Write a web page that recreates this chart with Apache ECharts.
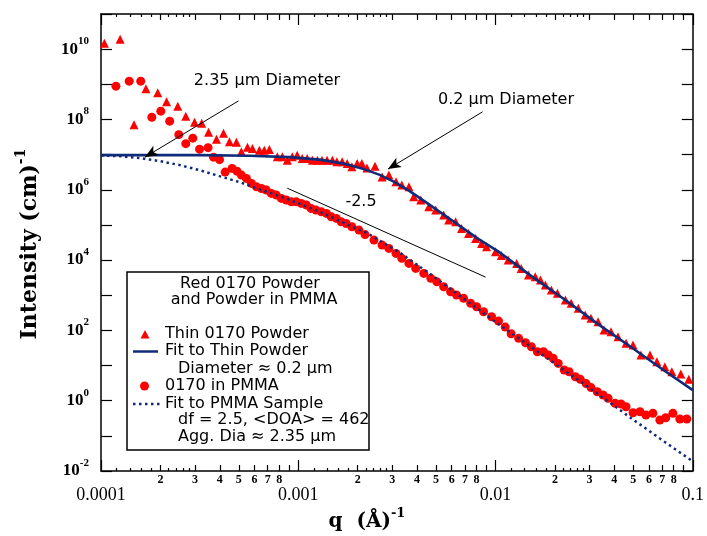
<!DOCTYPE html>
<html><head><meta charset="utf-8">
<script src="https://cdn.jsdelivr.net/npm/echarts@6/dist/echarts.min.js"></script>
<style>html,body{margin:0;padding:0;background:#fff}#c{width:707px;height:536px}</style>
</head><body><div id="c"></div>
<script>
// ---- data (q in 1/Å, intensity in 1/cm) ----
const thinQ = [1.04e-4,1.25e-4,1.47e-4,1.69e-4,1.94e-4,2.15e-4,2.45e-4,2.69e-4,2.98e-4,3.24e-4,3.51e-4,3.85e-4,4.18e-4,4.48e-4,4.86e-4,5.15e-4,5.53e-4,5.86e-4,6.35e-4,6.73e-4,7.14e-4,7.83e-4,8.30e-4,8.80e-4,9.33e-4,9.88e-4,1.048e-3,1.11e-3,1.18e-3,1.25e-3,1.32e-3,1.40e-3,1.49e-3,1.57e-3,1.67e-3,1.77e-3,1.87e-3,1.99e-3,2.10e-3,2.23e-3,2.45e-3,2.66e-3,2.88e-3,3.13e-3,3.35e-3,3.64e-3,3.85e-3,4.18e-3,4.59e-3,4.98e-3,5.46e-3,5.79e-3,6.28e-3,6.73e-3,7.30e-3,7.93e-3,8.50e-3,9.01e-3,1.00e-2,1.07e-2,1.16e-2,1.28e-2,1.35e-2,1.47e-2,1.59e-2,1.69e-2,1.79e-2,1.92e-2,2.06e-2,2.26e-2,2.42e-2,2.63e-2,2.85e-2,3.05e-2,3.31e-2,3.55e-2,3.85e-2,4.18e-2,4.59e-2,4.98e-2,5.46e-2,6.07e-2,6.58e-2,7.22e-2,7.83e-2,8.70e-2,9.55e-2];
const thinI = [1.48e10,1.92e10,7.12e7,7.52e8,5.79e8,3.21e8,2.39e8,1.24e8,8.38e7,7.86e7,4.36e7,2.75e7,4.08e7,2.31e7,2.26e7,1.20e7,1.63e7,1.50e7,1.34e7,1.34e7,1.40e7,8.65e6,8.65e6,6.97e6,8.65e6,9.66e6,7.79e6,7.79e6,6.97e6,6.97e6,6.97e6,6.97e6,6.97e6,6.23e6,6.23e6,5.61e6,4.49e6,5.61e6,5.61e6,4.13e6,4.70e6,2.29e6,2.61e6,1.68e6,1.36e6,1.21e6,6.30e5,5.08e5,3.27e5,2.64e5,1.90e5,1.37e5,1.23e5,7.96e4,5.74e4,4.14e4,2.98e4,2.39e4,1.72e4,1.34e4,9.99e3,8.05e3,5.80e3,3.74e3,3.35e3,2.70e3,1.95e3,1.40e3,1.13e3,729,587,423,273,220,176,102,91.4,65.9,42.8,38.3,19.9,19.9,12.8,9.25,6.66,5.73,4.05];

const pmmaQ = [1.19e-4,1.39e-4,1.59e-4,1.81e-4,2.01e-4,2.23e-4,2.48e-4,2.69e-4,2.92e-4,3.16e-4,3.49e-4,3.72e-4,3.99e-4,4.26e-4,4.62e-4,4.89e-4,5.15e-4,5.46e-4,5.79e-4,6.14e-4,6.51e-4,6.89e-4,7.30e-4,7.74e-4,8.21e-4,8.70e-4,9.22e-4,9.77e-4,1.036e-3,1.10e-3,1.16e-3,1.23e-3,1.31e-3,1.39e-3,1.47e-3,1.56e-3,1.65e-3,1.75e-3,1.87e-3,2.03e-3,2.18e-3,2.42e-3,2.66e-3,2.88e-3,3.13e-3,3.35e-3,3.64e-3,3.94e-3,4.33e-3,4.70e-3,5.04e-3,5.46e-3,5.92e-3,6.35e-3,6.89e-3,7.48e-3,8.02e-3,8.70e-3,9.55e-3,1.036e-2,1.12e-2,1.20e-2,1.31e-2,1.42e-2,1.52e-2,1.63e-2,1.75e-2,1.85e-2,1.96e-2,2.08e-2,2.23e-2,2.36e-2,2.54e-2,2.69e-2,2.88e-2,3.05e-2,3.28e-2,3.51e-2,3.72e-2,4.04e-2,4.33e-2,4.59e-2,4.98e-2,5.40e-2,5.79e-2,6.28e-2,6.81e-2,7.30e-2,7.93e-2,8.60e-2,9.33e-2];
const pmmaI = [8.85e8,1.23e9,1.23e9,1.16e8,1.72e8,8.95e7,3.70e7,2.05e7,2.94e7,1.43e7,1.58e7,8.48e6,7.20e6,3.18e6,4.05e6,3.39e6,2.61e6,2.10e6,1.52e6,1.21e6,1.09e6,9.77e5,7.87e5,7.05e5,5.68e5,5.08e5,4.54e5,4.54e5,4.09e5,3.66e5,2.95e5,2.64e5,2.36e5,2.13e5,1.70e5,1.53e5,1.23e5,1.10e5,8.84e4,7.13e4,5.31e4,3.70e4,2.67e4,2.15e4,1.55e4,1.12e4,8.05e3,5.80e3,4.18e3,3.02e3,2.41e3,1.74e3,1.25e3,1.01e3,814,587,470,339,244,184,124,80.2,59.3,44.5,34.2,24.7,24.7,19.9,16.0,11.5,7.45,6.66,4.80,4.05,3.06,2.36,1.80,1.45,1.17,0.842,0.804,0.674,0.455,0.486,0.391,0.437,0.282,0.328,0.437,0.301,0.301];

const fitThinQ = [1e-4,1.77e-4,3.16e-4,5.66e-4,9.01e-4,1.28e-3,1.71e-3,2.15e-3,2.57e-3,3.05e-3,3.64e-3,4.43e-3,5.46e-3,6.50e-3,8.21e-3,1.036e-2,1.52e-2,2.26e-2,3.31e-2,4.86e-2,7.22e-2,0.1];
const fitThinI = [9.66e6,9.66e6,9.66e6,9.29e6,8.48e6,7.20e6,5.54e6,3.87e6,2.70e6,1.70e6,9.46e5,4.46e5,1.97e5,9.88e4,3.95e4,1.74e4,3.50e3,729,151,33.6,6.98,2.00];

const fitPmmaQ = [1e-4,1.25e-4,1.57e-4,1.99e-4,2.51e-4,3.16e-4,3.99e-4,5.04e-4,6.35e-4,8.70e-4,1.28e-3,1.87e-3,2.21e-3,3.24e-3,4.75e-3,7.05e-3,1.036e-2,1.52e-2,2.26e-2,3.31e-2,4.86e-2,7.22e-2,9.77e-2];
const fitPmmaI = [9.35e6,9.05e6,7.94e6,6.53e6,5.02e6,3.62e6,2.44e6,1.65e6,1.04e6,5.60e5,2.39e5,8.96e4,6.05e4,1.69e4,3.74e3,729,151,33.6,6.98,1.55,0.321,0.0668,0.0206];

// annotation lines: [q, I] endpoints
const arrowBig = [[4.98e-4, 3.38e8], [1.67e-4, 8.48e6]];
const arrowSmall = [[8.60e-3, 1.65e8], [2.85e-3, 3.87e6]];
const slopeLine = [[8.80e-4, 1.11e6], [8.90e-3, 3.28e3]];

// ticks and labels
const xMajorTicks = [1e-4, 1e-3, 1e-2, 1e-1];
const xMajorLabels = ['0.0001', '0.001', '0.01', '0.1'];
const xMinorLabelVals = [2e-4,3e-4,4e-4,5e-4,6e-4,7e-4,8e-4, 2e-3,3e-3,4e-3,5e-3,6e-3,7e-3,8e-3, 2e-2,3e-2,4e-2,5e-2,6e-2,7e-2,8e-2];
const xMidTicks = [2e-4,3e-4,4e-4,5e-4,6e-4,7e-4,8e-4,9e-4, 2e-3,3e-3,4e-3,5e-3,6e-3,7e-3,8e-3,9e-3, 2e-2,3e-2,4e-2,5e-2,6e-2,7e-2,8e-2,9e-2];
const xSmallTicks = [1.2e-4,1.4e-4,1.6e-4,1.8e-4,2.2e-4,2.4e-4,2.6e-4,2.8e-4, 1.2e-3,1.4e-3,1.6e-3,1.8e-3,2.2e-3,2.4e-3,2.6e-3,2.8e-3, 1.2e-2,1.4e-2,1.6e-2,1.8e-2,2.2e-2,2.4e-2,2.6e-2,2.8e-2];
const yTicks = [1e-2,1e-1,1e0,1e1,1e2,1e3,1e4,1e5,1e6,1e7,1e8,1e9,1e10,1e11];
const yLabelVals = [1e-2,1e0,1e2,1e4,1e6,1e8,1e10];
const yLabelExps = ['-2','0','2','4','6','8','10'];

const fitColor = '#0f2b7a';
const red = '#ff0000';
const serif = 'Liberation Serif';
const sans = 'DejaVu Sans';

function pair(a, b) { return a.map((v, i) => [v, b[i]]); }
function near(a, b) { return Math.abs(Math.log10(a) - Math.log10(b)) < 1e-6; }

function xAxisDef(pos, ticks, len, main) {
  const ax = {
    type: 'log', logBase: 10, min: 1e-4, max: 0.1, position: pos,
    axisLine: { show: main, onZero: false, lineStyle: { color: '#000', width: 1.5 } },
    axisTick: { show: true, inside: true, length: len, customValues: ticks, lineStyle: { color: '#000', width: 1.2 } },
    splitLine: { show: false }, minorTick: { show: false }, minorSplitLine: { show: false },
    axisLabel: { show: false }
  };
  if (main && pos === 'bottom') {
    ax.axisLabel = {
      show: true, margin: 3,
      customValues: xMajorTicks.concat(xMinorLabelVals),
      formatter: function (v) {
        for (let i = 0; i < xMajorTicks.length; i++) {
          if (near(v, xMajorTicks[i])) return '{maj|' + xMajorLabels[i] + '}';
        }
        const m = Math.round(v / Math.pow(10, Math.floor(Math.log10(v) + 1e-9)));
        return '{min|' + m + '}';
      },
      rich: {
        maj: { fontFamily: serif, fontSize: 18, color: '#000', padding: [12, 0, 0, 0] },
        min: { fontFamily: serif, fontSize: 12, fontWeight: 'bold', color: '#000' }
      }
    };
  }
  return ax;
}
function yAxisDef(pos, main) {
  const ax = {
    type: 'log', logBase: 10, min: 1e-2, max: 1e11, position: pos,
    axisLine: { show: true, onZero: false, lineStyle: { color: '#000', width: 1.5 } },
    axisTick: { show: true, inside: true, length: 11, customValues: yTicks, lineStyle: { color: '#000', width: 1.2 } },
    splitLine: { show: false }, minorTick: { show: false },
    axisLabel: { show: false }
  };
  if (main) {
    ax.axisLabel = {
      show: true, margin: 12,
      customValues: yLabelVals,
      formatter: function (v) {
        for (let i = 0; i < yLabelVals.length; i++) {
          if (near(v, yLabelVals[i])) return '{b|10}{s|' + yLabelExps[i] + '}';
        }
        return '';
      },
      rich: {
        b: { fontFamily: serif, fontSize: 17, fontWeight: 'bold', color: '#000' },
        s: { fontFamily: serif, fontSize: 11, fontWeight: 'bold', color: '#000', padding: [0, 0, 16, 0] }
      }
    };
  }
  return ax;
}

const chart = echarts.init(document.getElementById('c'), null, { renderer: 'canvas' });

const legendFont = { fontFamily: sans, fontSize: 16, fill: '#000' };
function txt(x, y, t, align) {
  return { type: 'text', x: x, y: y, z: 101, silent: true,
    style: Object.assign({ text: t, align: align || 'left', verticalAlign: 'middle' }, legendFont) };
}

const option = {
  animation: false,
  backgroundColor: '#fff',
  grid: { left: 101, right: 12, top: 14, bottom: 65, containLabel: false },
  xAxis: [
    xAxisDef('bottom', xMajorTicks, 11, true),
    xAxisDef('bottom', xMidTicks, 6, false),
    xAxisDef('bottom', xSmallTicks, 3, false),
    xAxisDef('top', xMajorTicks, 11, true),
    xAxisDef('top', xMidTicks, 6, false),
    xAxisDef('top', xSmallTicks, 3, false)
  ],
  yAxis: [yAxisDef('left', true), yAxisDef('right', false)],
  series: [
    { name: 'Thin 0170 Powder', type: 'scatter', xAxisIndex: 0, yAxisIndex: 0, symbol: 'triangle', symbolSize: 9,
      itemStyle: { color: red, opacity: 1 }, data: pair(thinQ, thinI), z: 2, silent: true },
    { name: '0170 in PMMA', type: 'scatter', xAxisIndex: 0, yAxisIndex: 0, symbol: 'circle', symbolSize: 9,
      itemStyle: { color: red, opacity: 1 }, data: pair(pmmaQ, pmmaI), z: 2, silent: true },
    { name: 'Fit to Thin Powder', type: 'line', xAxisIndex: 0, yAxisIndex: 0, symbol: 'none', showSymbol: false,
      lineStyle: { color: fitColor, width: 2.6 }, data: pair(fitThinQ, fitThinI), z: 3, silent: true,
      markLine: {
        silent: true, animation: false, symbol: ['none', 'arrow'], symbolSize: [8, 13],
        label: { show: false }, lineStyle: { color: '#000', width: 1, type: 'solid' },
        itemStyle: { color: '#000' },
        data: [
          [{ coord: arrowBig[0] }, { coord: arrowBig[1] }],
          [{ coord: arrowSmall[0] }, { coord: arrowSmall[1] }]
        ]
      } },
    { name: 'Fit to PMMA Sample', type: 'line', xAxisIndex: 0, yAxisIndex: 0, symbol: 'none', showSymbol: false,
      lineStyle: { color: fitColor, width: 2.5, type: [2.5, 3.5], cap: 'butt' }, data: pair(fitPmmaQ, fitPmmaI), z: 3, silent: true,
      markLine: {
        silent: true, animation: false, symbol: ['none', 'none'],
        label: { show: false }, lineStyle: { color: '#000', width: 1, type: 'solid' },
        data: [[{ coord: slopeLine[0] }, { coord: slopeLine[1] }]]
      } }
  ],
  graphic: [
    // axis titles
    { type: 'text', x: 30, y: 244, rotation: Math.PI / 2, silent: true,
      style: { text: '{t|Intensity (cm)}{s|-1}', align: 'center', verticalAlign: 'middle',
        rich: { t: { fontFamily: 'DejaVu Serif', fontWeight: 'bold', fontSize: 22, fill: '#000' },
                s: { fontFamily: 'DejaVu Serif', fontWeight: 'bold', fontSize: 14, fill: '#000', padding: [0, 0, 18, 0] } } } },
    { type: 'text', x: 367, y: 522, silent: true,
      style: { text: '{t|q  (Å)}{s|-1}', align: 'center', verticalAlign: 'middle',
        rich: { t: { fontFamily: 'DejaVu Serif', fontWeight: 'bold', fontSize: 20, fill: '#000' },
                s: { fontFamily: 'DejaVu Serif', fontWeight: 'bold', fontSize: 13, fill: '#000', padding: [0, 0, 16, 0] } } } },
    // annotations
    txt(267, 81, '2.35 µm Diameter', 'center'),
    txt(506, 100, '0.2 µm Diameter', 'center'),
    txt(361, 202, '-2.5', 'center'),
    // legend box
    { type: 'rect', z: 100, silent: true, shape: { x: 127, y: 272, width: 242, height: 178 },
      style: { fill: '#fff', stroke: '#000', lineWidth: 1.5 } },
    txt(250, 284, 'Red 0170 Powder', 'center'),
    txt(254, 300, 'and Powder in PMMA', 'center'),
    { type: 'polygon', z: 101, silent: true, shape: { points: [[145, 330], [149.5, 338.5], [140.5, 338.5]] }, style: { fill: red } },
    txt(165, 334, 'Thin 0170 Powder'),
    { type: 'line', z: 101, silent: true, shape: { x1: 133, y1: 351.5, x2: 158, y2: 351.5 }, style: { stroke: fitColor, lineWidth: 2.5 } },
    txt(165, 351, 'Fit to Thin Powder'),
    txt(178, 369, 'Diameter ≈ 0.2 µm'),
    { type: 'circle', z: 101, silent: true, shape: { cx: 144.5, cy: 386, r: 4.5 }, style: { fill: red } },
    txt(165, 386, '0170 in PMMA'),
    { type: 'line', z: 101, silent: true, shape: { x1: 133, y1: 404, x2: 160, y2: 404 }, style: { stroke: fitColor, lineWidth: 2.5, lineDash: [2.5, 3.5] } },
    txt(165, 404, 'Fit to PMMA Sample'),
    txt(178, 420, 'df = 2.5, <DOA> = 462'),
    txt(178, 437, 'Agg. Dia ≈ 2.35 µm')
  ]
};
chart.setOption(option);
</script>
</body></html>
